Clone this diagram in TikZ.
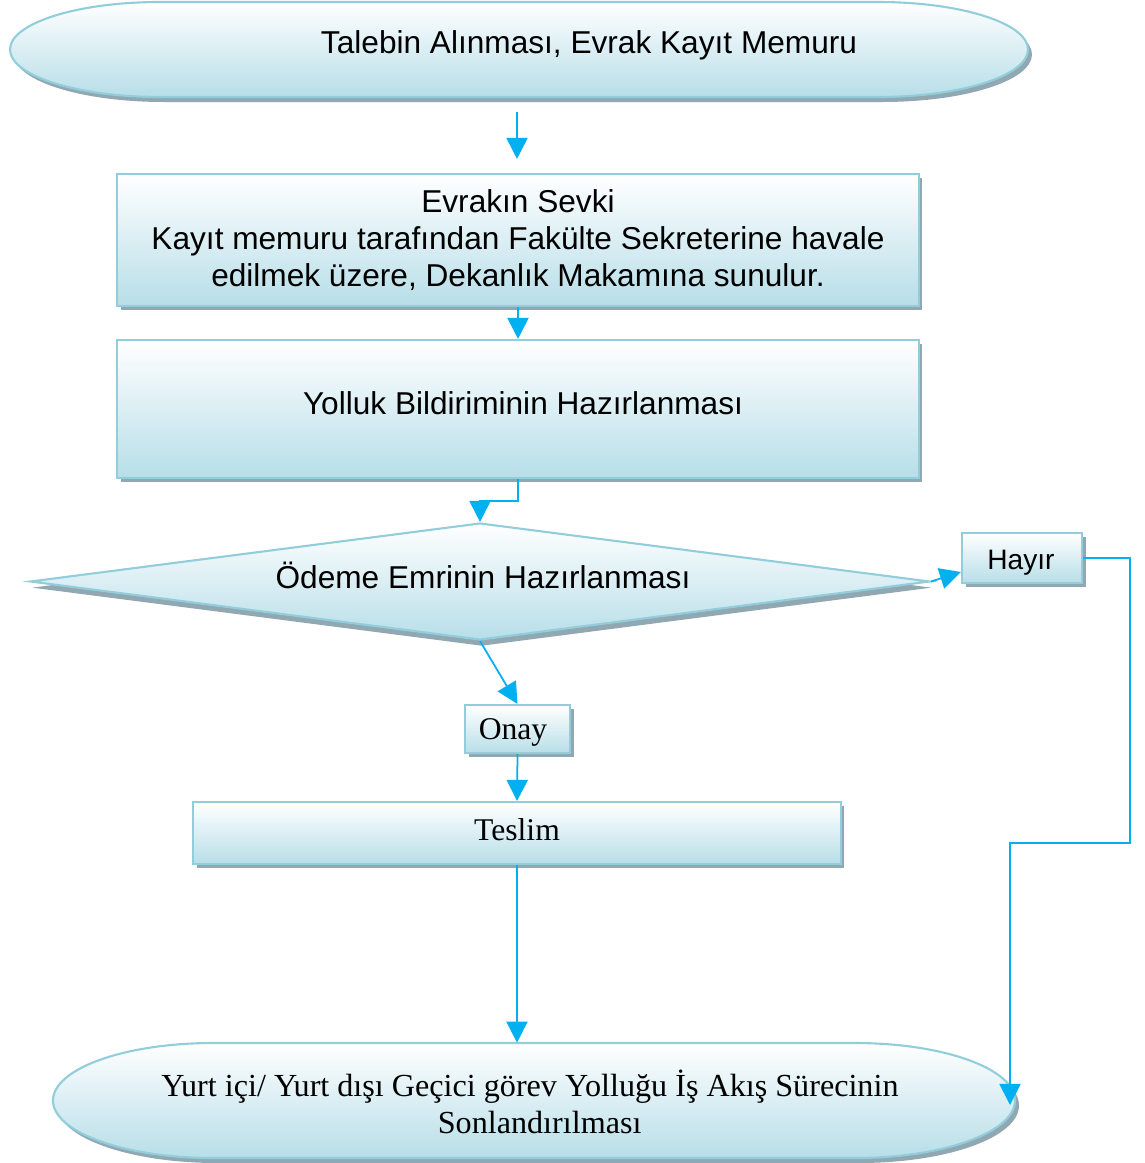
\documentclass[tikz,border=0pt]{standalone}
\usepackage{fontspec}
\setmainfont{Liberation Sans}
\newfontfamily\serifed{Liberation Serif}
\usetikzlibrary{shapes.geometric,arrows.meta,shadows,calc}
\definecolor{fillc}{RGB}{183,222,232}
\definecolor{bordc}{RGB}{146,205,220}
\definecolor{shadc}{RGB}{145,168,178}
\definecolor{arrc}{RGB}{0,176,240}
\newcommand\mystad[5]{%
 \pgfmathsetmacro\sxa{#1+#5}\pgfmathsetmacro\sxb{#3-#5}%
 \pgfmathsetmacro\scy{(#2+#4)/2}\pgfmathsetmacro\sky{0.5523*(#4-#2)/2}%
 \pgfmathsetmacro\skx{0.5523*#5}%
 \pgfmathsetmacro\sxbk{\sxb+\skx}\pgfmathsetmacro\sxak{\sxa-\skx}%
 \pgfmathsetmacro\scyu{\scy-\sky}\pgfmathsetmacro\scyd{\scy+\sky}%
 \path[shadowfill, shift={(4,5)}] (\sxa,#2) -- (\sxb,#2) .. controls (\sxbk,#2) and (#3,\scyu) .. (#3,\scy) .. controls (#3,\scyd) and (\sxbk,#4) .. (\sxb,#4) -- (\sxa,#4) .. controls (\sxak,#4) and (#1,\scyd) .. (#1,\scy) .. controls (#1,\scyu) and (\sxak,#2) .. (\sxa,#2) -- cycle;
 \path[mainfill] (\sxa,#2) -- (\sxb,#2) .. controls (\sxbk,#2) and (#3,\scyu) .. (#3,\scy) .. controls (#3,\scyd) and (\sxbk,#4) .. (\sxb,#4) -- (\sxa,#4) .. controls (\sxak,#4) and (#1,\scyd) .. (#1,\scy) .. controls (#1,\scyu) and (\sxak,#2) .. (\sxa,#2) -- cycle;
}
\begin{document}
\begin{tikzpicture}[x=0.02cm,y=-0.02cm,
 shadowfill/.style={fill=shadc, draw=none},
 mainfill/.style={top color=white, bottom color=fillc, draw=bordc, line width=1.2pt},
 shad/.style={drop shadow={shadow xshift=2pt, shadow yshift=-2.5pt, fill=shadc, opacity=1}},
 box/.style={rectangle, top color=white, bottom color=fillc, draw=bordc, line width=1.2pt, inner sep=0pt, align=center, shad},
 dia/.style={diamond, top color=white, bottom color=fillc, draw=bordc, line width=1.2pt, inner sep=0pt, drop shadow={shadow xshift=1pt, shadow yshift=-3.5pt, fill=shadc, opacity=1}},
 ghost/.style={rectangle, draw=none, inner sep=0pt},
 arr/.style={draw=arrc, line width=1pt, -{Triangle[length=12pt,width=12pt]}},
 txt/.style={font=\fontsize{18}{21}\selectfont, align=center, inner sep=0pt},
 stxt/.style={font=\serifed\fontsize{18.3}{21}\selectfont, align=center, inner sep=0pt}
]
\useasboundingbox (0,0) rectangle (1145,1163);

% start terminal
\mystad{10}{2}{1028}{97}{150}
\node[ghost, minimum width=20.36cm, minimum height=1.9cm] (start) at (519,49.5) {};
\node[txt, anchor=base] (starttxt) at (589,53) {Talebin Alınması, Evrak Kayıt Memuru};

% box 2
\node[box, minimum width=16.04cm, minimum height=2.64cm, font=\fontsize{18}{21}\selectfont] (box2) at (518,240)
 {Evrakın Sevki\\Kayıt memuru tarafından Fakülte Sekreterine havale\\edilmek üzere, Dekanlık Makamına sunulur.};

% box 3
\node[box, minimum width=16.04cm, minimum height=2.76cm] (box3) at (518,409) {};
\node[txt] (box3txt) at (523,403) {Yolluk Bildiriminin Hazırlanması};

% decision
\node[dia, minimum width=18cm, minimum height=2.34cm] (dec) at (480,581.5) {};
\node[txt] (dectxt) at (483,575) {Ödeme Emrinin Hazırlanması};

% Hayir
\node[box, minimum width=2.4cm, minimum height=1.0cm] (hayir) at (1022,558) {};
\node[inner sep=0pt, font=\fontsize{16}{19}\selectfont] (hayirtxt) at (1021,563) {Hayır};

% Onay
\node[box, minimum width=2.1cm, minimum height=0.96cm] (onay) at (517.5,729) {};
\node[inner sep=0pt, font=\serifed\fontsize{18}{21}\selectfont] (onaytxt) at (513,732) {Onay};

% Teslim
\node[box, minimum width=12.96cm, minimum height=1.24cm] (teslim) at (517,833) {};
\node[inner sep=0pt, font=\serifed\fontsize{18}{21}\selectfont] (teslimtxt) at (517,830) {Teslim};

% end terminal
\mystad{53}{1043}{1015}{1158}{160}
\node[ghost, minimum width=19.24cm, minimum height=2.3cm] (endn) at (534,1100.5) {};
\node[stxt] (endtxt) at (530,1102) {Yurt içi/ Yurt dışı Geçici görev Yolluğu İş Akış Sürecinin\\\hspace*{11pt}Sonlandırılması};

% connectors
\coordinate (c1) at (1130,843);
\coordinate (c2) at (1010,1105);
\draw[arr] ($(start.south)+(-2,15)$) -- ($(box2.north)+(-1,-14)$);
\draw[arr] (box2.south) -- (box3.north);
\draw[arr] (box3.south) -- ++(0,22) -| (dec.north);
\draw[arr] (dec.east) -- ($(hayir.west)+(0,14)$);
\draw[arr] (hayir.east) -| (c1) -| (c2);
\draw[arr] (dec.south) -- (onay.north);
\draw[arr] (onay.south) -- (teslim.north);
\draw[arr] (teslim.south) -- (teslim.south |- endn.north);
\end{tikzpicture}
\end{document}
